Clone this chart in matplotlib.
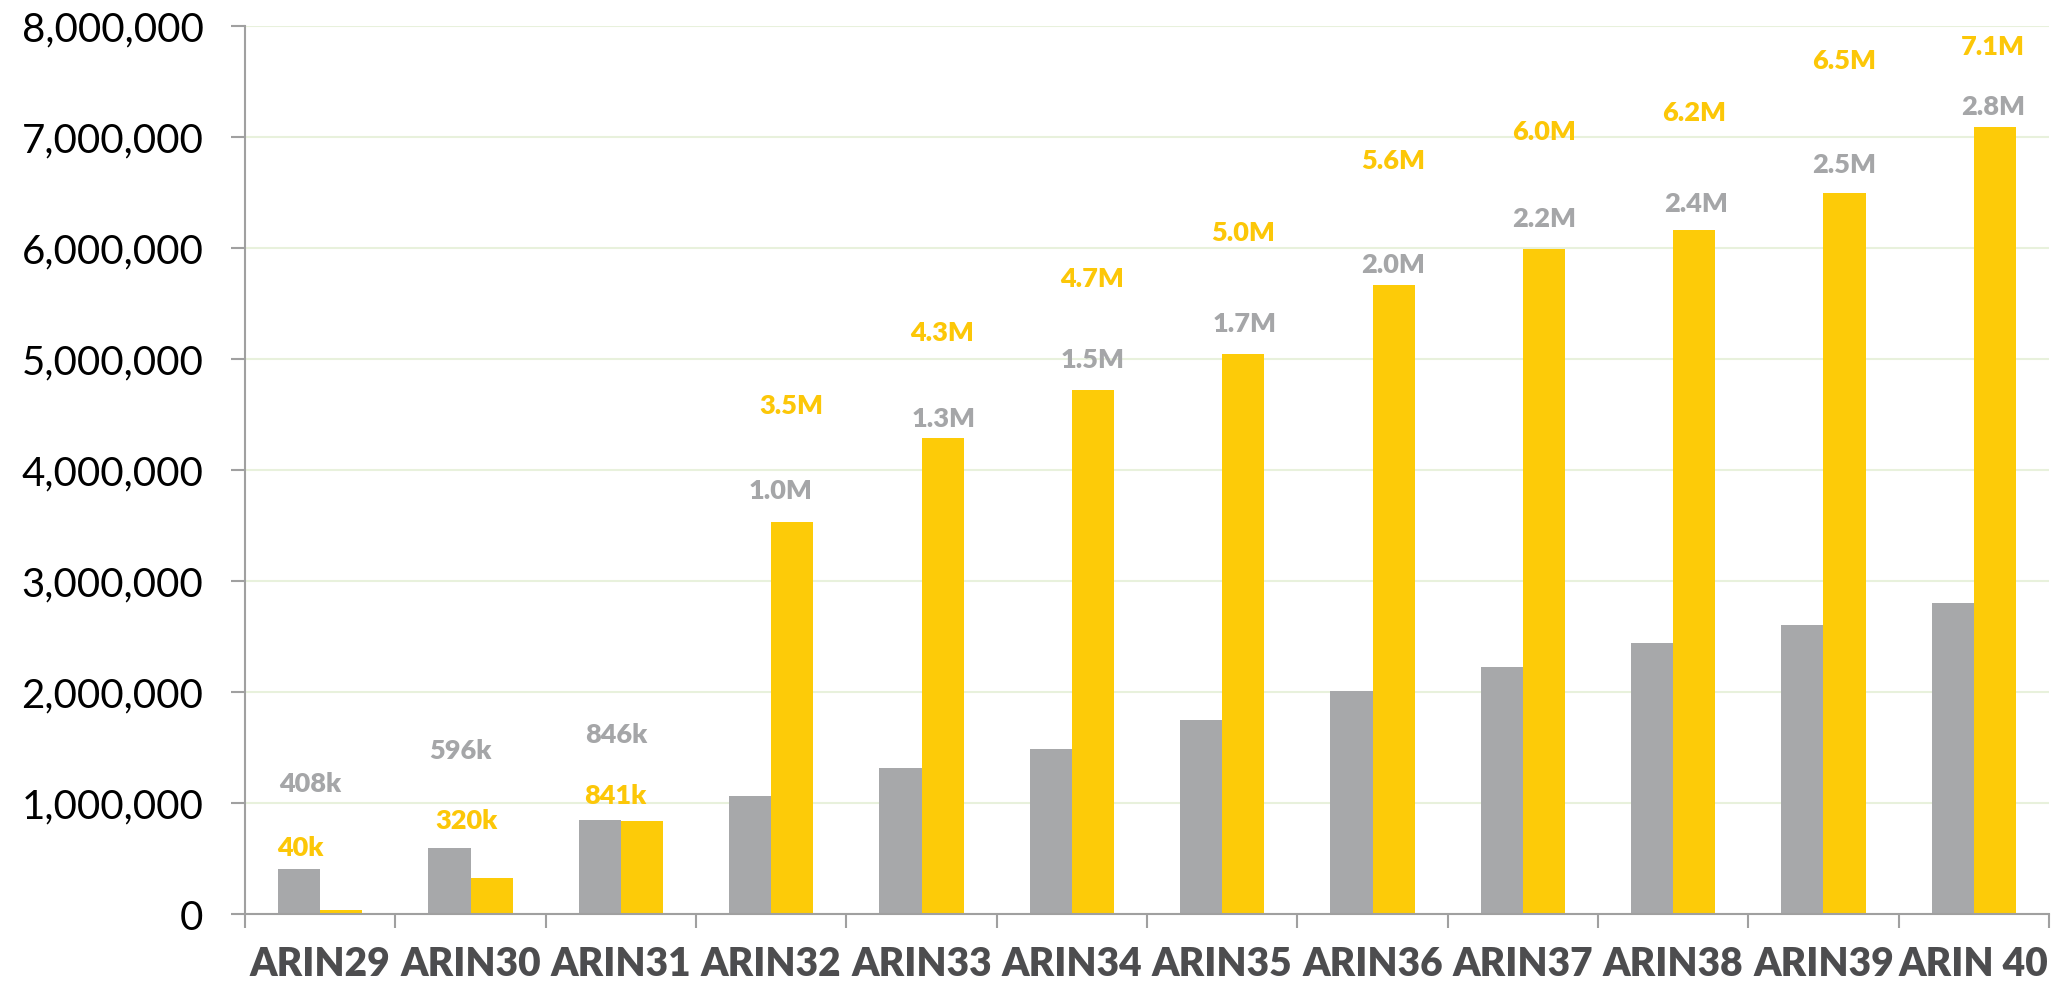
import numpy as np
import matplotlib.pyplot as plt
from matplotlib.ticker import FuncFormatter

categories = ["ARIN29", "ARIN30", "ARIN31", "ARIN32", "ARIN33", "ARIN34",
              "ARIN35", "ARIN36", "ARIN37", "ARIN38", "ARIN39", "ARIN 40"]
gray_vals = [408000, 596000, 846000, 1060000, 1310000, 1490000,
             1750000, 2010000, 2220000, 2440000, 2600000, 2800000]
yellow_vals = [40000, 320000, 841000, 3530000, 4290000, 4720000,
               5040000, 5660000, 5990000, 6160000, 6490000, 7090000]
gray_labels = ["408k", "596k", "846k", "1.0M", "1.3M", "1.5M",
               "1.7M", "2.0M", "2.2M", "2.4M", "2.5M", "2.8M"]
yellow_labels = ["40k", "320k", "841k", "3.5M", "4.3M", "4.7M",
                 "5.0M", "5.6M", "6.0M", "6.2M", "6.5M", "7.1M"]

# where the (misplaced) data labels sit: x shift in category units, y in data units
gray_dx = [-0.065, -0.065, -0.03, 0.065, 0.15, 0.14, 0.15, 0.14, 0.14, 0.15, 0.14, 0.13]
gray_ly = [1.18e6, 1.48e6, 1.62e6, 3.82e6, 4.47e6, 5.0e6, 5.32e6, 5.85e6, 6.27e6, 6.40e6, 6.75e6, 7.28e6]
yellow_dx = [-0.13, -0.03, -0.04, 0.135, 0.135, 0.135, 0.14, 0.14, 0.14, 0.14, 0.14, 0.13]
yellow_ly = [0.607e6, 0.85e6, 1.07e6, 4.58e6, 5.24e6, 5.73e6, 6.14e6, 6.79e6, 7.05e6, 7.22e6, 7.69e6, 7.82e6]

GRAY = "#a7a8aa"
YELLOW = "#fdcb08"
GRAY_TXT = "#a5a6a8"
YELLOW_TXT = "#fcc708"

plt.rcParams['font.family'] = ['Lato', 'DejaVu Sans']

fig = plt.figure(figsize=(20.51, 9.87), dpi=100)
ax = fig.add_axes([0.1195, 0.073, 0.8795, 0.9])

x = np.arange(len(categories))
w = 0.28
ax.bar(x - w / 2, gray_vals, w, color=GRAY, zorder=2)
ax.bar(x + w / 2, yellow_vals, w, color=YELLOW, zorder=2)

for i in range(len(categories)):
    ax.text(x[i] + gray_dx[i], gray_ly[i], gray_labels[i], ha="center", va="center",
            fontsize=19.5, fontweight="heavy", color=GRAY_TXT, zorder=3)
    ax.text(x[i] + yellow_dx[i], yellow_ly[i], yellow_labels[i], ha="center", va="center",
            fontsize=19.5, fontweight="heavy", color=YELLOW_TXT, zorder=3)

ax.set_xlim(-0.5, len(categories) - 0.5)
ax.set_ylim(0, 8000000)
ax.set_yticks(np.arange(0, 8000001, 1000000))
ax.yaxis.set_major_formatter(FuncFormatter(lambda v, p: "{:,.0f}".format(v)))
ax.grid(axis="y", color="#e8f1dc", linewidth=1.5, zorder=0)

# category separators as x ticks, names as minor ticks
ax.set_xticks(np.arange(-0.5, len(categories), 1))
ax.set_xticklabels([])
ax.set_xticks(x, minor=True)
ax.set_xticklabels(categories, minor=True, fontsize=28, fontweight="heavy", color="#4d4d4f")
ax.tick_params(axis="x", which="major", direction="out", length=10, width=1.5, color="#a0a0a0")
ax.tick_params(axis="x", which="minor", length=0, pad=22)
ax.tick_params(axis="y", direction="out", length=10, width=1.5, color="#a0a0a0",
               labelsize=29, labelcolor="black", pad=20)

for s in ["top", "right"]:
    ax.spines[s].set_visible(False)
for s in ["left", "bottom"]:
    ax.spines[s].set_color("#a0a0a0")
    ax.spines[s].set_linewidth(1.5)

plt.savefig("out.png", dpi=100)
